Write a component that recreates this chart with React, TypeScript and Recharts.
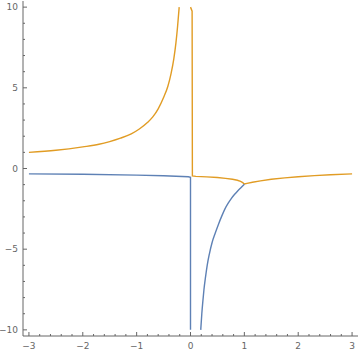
import { LineChart, Line, XAxis, YAxis } from 'recharts';

// curve pieces
const orangeLeft = [
  { x: -3.0, y: 1.0 },
  { x: -2.5, y: 1.13 },
  { x: -2.0, y: 1.34 },
  { x: -1.7, y: 1.5 },
  { x: -1.5, y: 1.67 },
  { x: -1.3, y: 1.88 },
  { x: -1.1, y: 2.15 },
  { x: -0.95, y: 2.45 },
  { x: -0.8, y: 2.85 },
  { x: -0.7, y: 3.2 },
  { x: -0.6, y: 3.7 },
  { x: -0.5, y: 4.4 },
  { x: -0.42, y: 5.1 },
  { x: -0.36, y: 5.9 },
  { x: -0.31, y: 6.8 },
  { x: -0.27, y: 7.8 },
  { x: -0.24, y: 8.8 },
  { x: -0.21, y: 10.0 }
];

const orangeRight = [
  { x: 0.0, y: 10.0 },
  { x: 0.03, y: 9.75 },
  { x: 0.035, y: -0.46 },
  { x: 0.1, y: -0.49 },
  { x: 0.3, y: -0.52 },
  { x: 0.5, y: -0.56 },
  { x: 0.65, y: -0.61 },
  { x: 0.78, y: -0.67 },
  { x: 0.87, y: -0.73 },
  { x: 0.93, y: -0.8 },
  { x: 0.97, y: -0.88 },
  { x: 1.0, y: -0.96 },
  { x: 1.05, y: -0.92 },
  { x: 1.15, y: -0.85 },
  { x: 1.3, y: -0.77 },
  { x: 1.5, y: -0.67 },
  { x: 1.75, y: -0.58 },
  { x: 2.0, y: -0.51 },
  { x: 2.3, y: -0.44 },
  { x: 2.6, y: -0.39 },
  { x: 3.0, y: -0.33 }
];

const blueLeft = [
  { x: -3.0, y: -0.33 },
  { x: -2.0, y: -0.36 },
  { x: -1.0, y: -0.41 },
  { x: -0.5, y: -0.45 },
  { x: -0.04, y: -0.51 },
  { x: 0.0, y: -0.55 },
  { x: 0.0, y: -10.0 }
];

const blueRight = [
  { x: 0.19, y: -10.0 },
  { x: 0.21, y: -9.0 },
  { x: 0.23, y: -8.2 },
  { x: 0.25, y: -7.5 },
  { x: 0.28, y: -6.7 },
  { x: 0.31, y: -6.0 },
  { x: 0.35, y: -5.3 },
  { x: 0.4, y: -4.6 },
  { x: 0.46, y: -4.0 },
  { x: 0.52, y: -3.45 },
  { x: 0.58, y: -2.95 },
  { x: 0.64, y: -2.5 },
  { x: 0.7, y: -2.15 },
  { x: 0.76, y: -1.85 },
  { x: 0.82, y: -1.6 },
  { x: 0.88, y: -1.38 },
  { x: 0.94, y: -1.18 },
  { x: 1.0, y: -0.98 }
];

const xMajor = [-3, -2, -1, 0, 1, 2, 3];
const xTicks = [
  -3, -2.8, -2.6, -2.4, -2.2, -2, -1.8, -1.6, -1.4, -1.2, -1, -0.8, -0.6, -0.4, -0.2, 0,
  0.2, 0.4, 0.6, 0.8, 1, 1.2, 1.4, 1.6, 1.8, 2, 2.2, 2.4, 2.6, 2.8, 3
];
const yMajor = [-10, -5, 0, 5, 10];
const yTicks = [-10, -9, -8, -7, -6, -5, -4, -3, -2, -1, 0, 1, 2, 3, 4, 5, 6, 7, 8, 9, 10];

const FRAME = '#666';
const LABEL = '#666';
const ORANGE = '#e19c24';
const BLUE = '#5e81b5';

const isMajor = (list: number[], v: number) => list.some((m) => Math.abs(m - v) < 1e-6);
const fmt = (v: number) => (v < 0 ? '\u2212' + Math.abs(v) : String(v));

function BottomTick(props: any) {
  const { x, y, payload } = props;
  const major = isMajor(xMajor, payload.value);
  return (
    <g>
      <line x1={x} y1={y} x2={x} y2={y - (major ? 4 : 2)} stroke={FRAME} strokeWidth={1} />
      {major && (
        <text x={x} y={y + 13} textAnchor="middle" fontSize={9} fill={LABEL} fontFamily="DejaVu Sans, sans-serif">
          {fmt(payload.value)}
        </text>
      )}
    </g>
  );
}

function TopTick(props: any) {
  const { x, y, payload } = props;
  const major = isMajor(xMajor, payload.value);
  return <line x1={x} y1={y} x2={x} y2={y + (major ? 4 : 2)} stroke={FRAME} strokeWidth={1} />;
}

function LeftTick(props: any) {
  const { x, y, payload } = props;
  const major = isMajor(yMajor, payload.value);
  return (
    <g>
      <line x1={x} y1={y} x2={x + (major ? 4 : 2)} y2={y} stroke={FRAME} strokeWidth={1} />
      {major && (
        <text x={x - 5} y={y + 3} textAnchor="end" fontSize={9} fill={LABEL} fontFamily="DejaVu Sans, sans-serif">
          {fmt(payload.value)}
        </text>
      )}
    </g>
  );
}

function RightTick(props: any) {
  const { x, y, payload } = props;
  const major = isMajor(yMajor, payload.value);
  return <line x1={x} y1={y} x2={x - (major ? 4 : 2)} y2={y} stroke={FRAME} strokeWidth={1} />;
}

export default function App() {
  const xDomain = [-3.11, 3.11];
  const yDomain = [-10.38, 10.38];
  return (
    <div style={{ position: 'absolute', left: 0, top: 0, background: '#fff' }}>
      <LineChart width={360} height={354} margin={{ top: 1, right: 2, bottom: 0, left: 0 }}>
        <XAxis
          dataKey="x"
          type="number"
          domain={xDomain}
          allowDataOverflow
          ticks={xTicks}
          interval={0}
          tickSize={0}
          tickMargin={0}
          tick={<BottomTick />}
          axisLine={{ stroke: FRAME }}
          height={18}
        />
        <XAxis
          xAxisId="top"
          orientation="top"
          dataKey="x"
          type="number"
          domain={xDomain}
          allowDataOverflow
          ticks={xTicks}
          interval={0}
          tickSize={0}
          tickMargin={0}
          tick={<TopTick />}
          axisLine={{ stroke: FRAME }}
          height={0}
        />
        <YAxis
          type="number"
          domain={yDomain}
          allowDataOverflow
          ticks={yTicks}
          interval={0}
          tickSize={0}
          tickMargin={0}
          tick={<LeftTick />}
          axisLine={{ stroke: FRAME }}
          width={23}
        />
        <YAxis
          yAxisId="right"
          orientation="right"
          type="number"
          domain={yDomain}
          allowDataOverflow
          ticks={yTicks}
          interval={0}
          tickSize={0}
          tickMargin={0}
          tick={<RightTick />}
          axisLine={{ stroke: FRAME }}
          width={0}
        />
        <Line data={orangeLeft} dataKey="y" type="monotoneX" stroke={ORANGE} strokeWidth={1.4} dot={false} isAnimationActive={false} />
        <Line data={orangeRight} dataKey="y" type="linear" stroke={ORANGE} strokeWidth={1.4} dot={false} isAnimationActive={false} />
        <Line data={blueLeft} dataKey="y" type="linear" stroke={BLUE} strokeWidth={1.4} dot={false} isAnimationActive={false} />
        <Line data={blueRight} dataKey="y" type="monotoneX" stroke={BLUE} strokeWidth={1.4} dot={false} isAnimationActive={false} />
      </LineChart>
    </div>
  );
}
